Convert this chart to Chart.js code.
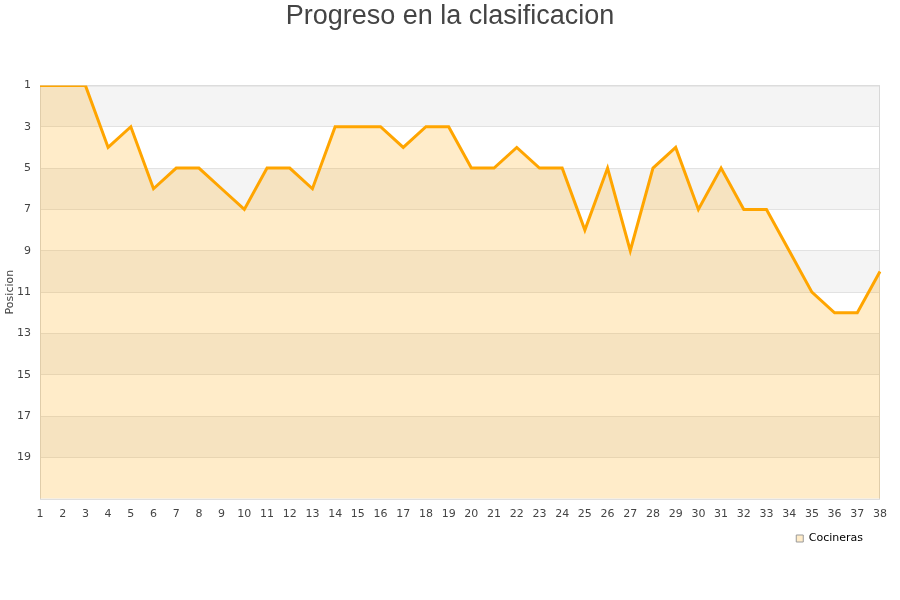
<!DOCTYPE html>
<html>
<head>
<meta charset="utf-8">
<script src="https://cdn.jsdelivr.net/npm/chart.js@4.4.1/dist/chart.umd.min.js"></script>
<style>
  html, body { margin: 0; padding: 0; background: #fff; }
  #wrap { width: 900px; height: 600px; }
</style>
</head>
<body>
<div id="wrap"><canvas id="myChart" width="900" height="600"></canvas></div>
<script>
const jornadas = Array.from({ length: 38 }, (_, i) => String(i + 1));
const posiciones = [1, 1, 1, 4, 3, 6, 5, 5, 6, 7, 5, 5, 6, 3, 3, 3, 4, 3, 3, 5,
                    5, 4, 5, 5, 8, 5, 9, 5, 4, 7, 5, 7, 7, 9, 11, 12, 12, 10];
const minPos = 1;
const maxPos = 21;

// alternating grey bands behind the plot + thin border
const bandsPlugin = {
  id: "bands",
  afterLayout(chart) {
    // legend sits a bit inside the right edge, like the original
    chart.legend.right = chart.chartArea.right - 14;
  },
  beforeDraw(chart) {
    const { ctx, chartArea: a, scales: { y } } = chart;
    ctx.save();
    ctx.fillStyle = "#fff";
    ctx.fillRect(0, 0, chart.width, chart.height);
    for (let v = minPos, k = 0; v < maxPos; v += 2, k++) {
      if (k % 2 === 0) {
        const top = y.getPixelForValue(v);
        const bot = y.getPixelForValue(v + 2);
        ctx.fillStyle = "#f4f4f4";
        ctx.fillRect(a.left, top, a.right - a.left, bot - top);
      }
    }
    ctx.restore();
  },
  beforeDatasetsDraw(chart) {
    const { ctx, chartArea: a } = chart;
    ctx.save();
    ctx.strokeStyle = "#d8d8d8";
    ctx.lineWidth = 1;
    ctx.strokeRect(a.left + 0.5, a.top + 0.5, a.right - a.left - 1, a.bottom - a.top);
    ctx.restore();
  }
};

new Chart(document.getElementById("myChart").getContext("2d"), {
  type: "line",
  data: {
    labels: jornadas,
    datasets: [{
      label: "Cocineras",
      data: posiciones,
      borderColor: "#ffa500",
      backgroundColor: "rgba(255,165,0,0.21)",
      borderWidth: 3,
      pointRadius: 0,
      tension: 0,
      fill: { value: maxPos }
    }]
  },
  options: {
    responsive: false,
    animation: false,
    layout: { padding: { left: 0, right: 0, top: 0, bottom: 46 } },
    plugins: {
      title: {
        display: true,
        text: "Progreso en la clasificacion",
        color: "#444",
        font: { family: "Liberation Sans", size: 27, weight: "normal" },
        padding: { top: 0, bottom: 53 }
      },
      legend: {
        position: "bottom",
        align: "end",
        labels: {
          boxWidth: 7,
          boxHeight: 7,
          padding: 3,
          color: "#222",
          font: { family: "DejaVu Sans", size: 11 },
          generateLabels: () => [{
            text: "Cocineras",
            fillStyle: "rgba(255,165,0,0.21)",
            strokeStyle: "#999",
            lineWidth: 1
          }]
        }
      },
      tooltip: { enabled: false }
    },
    scales: {
      x: {
        offset: false,
        grid: { display: false, drawTicks: false },
        border: { display: false },
        ticks: {
          autoSkip: false,
          maxRotation: 0,
          padding: 9,
          color: "#444",
          font: { family: "DejaVu Sans", size: 11 }
        }
      },
      y: {
        reverse: true,
        min: minPos,
        max: maxPos,
        afterFit: s => { s.width = 40; },
        title: {
          display: true,
          text: "Posicion",
          color: "#444",
          font: { family: "DejaVu Sans", size: 11 },
          padding: { top: 3.5, bottom: 0 }
        },
        grid: { color: "#e2e2e2", drawTicks: false },
        border: { display: false },
        ticks: {
          stepSize: 2,
          padding: 9,
          color: "#444",
          font: { family: "DejaVu Sans", size: 11 },
          callback: v => (v === maxPos ? null : v)
        }
      },
      // empty right-hand axis, only reserves the right margin
      y2: {
        position: "right",
        grid: { display: false },
        border: { display: false },
        ticks: { display: false },
        afterFit: s => { s.width = 20; }
      }
    }
  },
  plugins: [bandsPlugin]
});
</script>
</body>
</html>
